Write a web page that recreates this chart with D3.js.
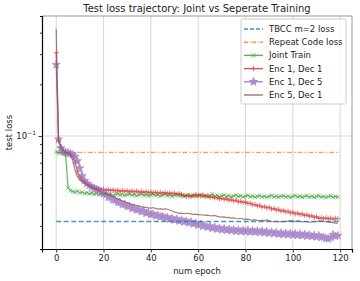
<!DOCTYPE html>
<html>
<head>
<meta charset="utf-8">
<script src="https://cdn.jsdelivr.net/npm/d3@7"></script>
<style>
  body { margin: 0; background: #fff; }
  text { font-family: "DejaVu Sans", sans-serif; }
</style>
</head>
<body>
<div id="chart"></div>
<script>
// values, one per epoch (0..119)
var jointTrain = [
  .0810, .0795, .0802, .0788, .0776, .0500, .0482, .0476, .0470, .0478, .0468, .0472, .0463, .0469, .0460, .0466, .0458, .0463, .0455, .0461,
  .0456, .0462, .0454, .0459, .0451, .0457, .0462, .0453, .0458, .0450, .0456, .0461, .0452, .0457, .0449, .0455, .0460, .0451, .0456, .0448,
  .0454, .0459, .0450, .0455, .0447, .0453, .0458, .0449, .0454, .0446, .0452, .0457, .0448, .0453, .0445, .0451, .0456, .0447, .0452, .0444,
  .0450, .0455, .0446, .0451, .0443, .0449, .0460, .0447, .0452, .0443, .0449, .0454, .0445, .0450, .0442, .0448, .0453, .0444, .0449, .0441,
  .0447, .0452, .0443, .0448, .0441, .0446, .0451, .0442, .0447, .0440, .0446, .0451, .0442, .0447, .0441, .0446, .0450, .0441, .0446, .0440,
  .0446, .0451, .0442, .0447, .0440, .0445, .0450, .0441, .0446, .0440, .0445, .0450, .0441, .0446, .0439, .0445, .0449, .0440, .0445, .0441
];
var enc1dec1 = [
  .306, .094, .086, .082, .0800, .0795, .0785, .0765, .0700, .0620, .0580, .0555, .0540, .0528, .0518, .0510, .0502, .0495, .0492, .0488,
  .0490, .0484, .0488, .0481, .0486, .0479, .0484, .0477, .0482, .0476, .0481, .0474, .0479, .0473, .0478, .0471, .0476, .0470, .0475, .0468,
  .0472, .0467, .0471, .0465, .0470, .0464, .0469, .0462, .0467, .0461, .0465, .0459, .0463, .0456, .0452, .0446, .0448, .0444, .0452, .0456,
  .0452, .0449, .0453, .0445, .0448, .0440, .0444, .0436, .0439, .0431, .0434, .0427, .0431, .0423, .0426, .0419, .0423, .0414, .0417, .0410,
  .0413, .0404, .0407, .0398, .0400, .0392, .0395, .0386, .0389, .0382, .0385, .0376, .0379, .0371, .0374, .0366, .0369, .0362, .0365, .0357,
  .0360, .0352, .0356, .0349, .0352, .0345, .0348, .0341, .0344, .0336, .0339, .0332, .0335, .0330, .0334, .0329, .0333, .0328, .0332, .0330
];
var enc1dec5 = [
  .260, .0957, .0850, .0815, .0805, .0800, .0790, .0778, .0760, .0715, .0650, .0585, .0550, .0530, .0515, .0505, .0497, .0490, .0482, .0474,
  .0462, .0455, .0441, .0438, .0425, .0423, .0411, .0410, .0399, .0400, .0389, .0390, .0379, .0381, .0371, .0373, .0363, .0366, .0355, .0358,
  .0349, .0352, .0343, .0346, .0338, .0341, .0333, .0336, .0328, .0332, .0324, .0328, .0320, .0324, .0316, .0320, .0312, .0316, .0308, .0311,
  .0303, .0306, .0298, .0301, .0294, .0298, .0290, .0294, .0287, .0291, .0284, .0289, .0283, .0287, .0281, .0285, .0279, .0284, .0278, .0283,
  .0277, .0283, .0276, .0281, .0276, .0280, .0275, .0280, .0273, .0278, .0271, .0276, .0270, .0274, .0268, .0273, .0267, .0272, .0266, .0271,
  .0265, .0270, .0264, .0269, .0263, .0268, .0262, .0266, .0260, .0264, .0258, .0263, .0257, .0258, .0254, .0252, .0256, .0267, .0261, .0263
];
var enc5dec1 = [
  .420, .094, .086, .082, .0805, .0795, .0780, .0720, .0630, .0580, .0555, .0540, .0530, .0520, .0510, .0502, .0495, .0488, .0481, .0474,
  .0466, .0461, .0455, .0449, .0443, .0437, .0431, .0425, .0419, .0414, .0409, .0404, .0400, .0397, .0394, .0391, .0388, .0386, .0384, .0382,
  .0381, .0383, .0379, .0376, .0378, .0374, .0377, .0375, .0371, .0366, .0361, .0358, .0355, .0356, .0353, .0355, .0354, .0352, .0350, .0351,
  .0349, .0347, .0348, .0345, .0346, .0344, .0343, .0345, .0341, .0339, .0337, .0338, .0335, .0336, .0333, .0334, .0331, .0330, .0332, .0328,
  .0327, .0328, .0325, .0324, .0326, .0323, .0322, .0324, .0321, .0325, .0322, .0318, .0317, .0319, .0316, .0318, .0317, .0319, .0320, .0322,
  .0320, .0318, .0321, .0319, .0316, .0317, .0318, .0315, .0316, .0318, .0317, .0319, .0321, .0318, .0316, .0315, .0314, .0313, .0311, .0310
];
var tbccLoss = 0.0318;
var repeatLoss = 0.0803;
var epochRange = [0, 120];
var xTicks = [0, 20, 40, 60, 80, 100, 120];
var yMinorTicks = [0.03, 0.04, 0.05, 0.06, 0.07, 0.08, 0.09, 0.2, 0.3, 0.4];
var legendLabels = ["TBCC m=2 loss", "Repeat Code loss", "Joint Train", "Enc 1, Dec 1", "Enc 1, Dec 5", "Enc 5, Dec 1"];

var svgWidth = 360;
var svgHeight = 281;
var margin = { top: 16, right: 8, bottom: 32, left: 42 };
var width = svgWidth - margin.left - margin.right;
var height = svgHeight - margin.top - margin.bottom;

var svg = d3.select("#chart")
  .append("svg")
  .attr("width", svgWidth)
  .attr("height", svgHeight);

var chartGroup = svg.append("g")
  .attr("transform", `translate(${margin.left}, ${margin.top})`);

var xScale = d3.scaleLinear().domain([-6, 125]).range([0, width]);
var yScale = d3.scaleLog().domain([0.022, 0.5]).range([height, 0]);

// grid
chartGroup.selectAll(".vgrid").data(xTicks).enter().append("line")
  .attr("x1", d => xScale(d)).attr("x2", d => xScale(d))
  .attr("y1", 0).attr("y2", height)
  .attr("stroke", "#d9d9d9").attr("stroke-width", 1.1);
chartGroup.append("line")
  .attr("x1", 0).attr("x2", width)
  .attr("y1", yScale(0.1)).attr("y2", yScale(0.1))
  .attr("stroke", "#d9d9d9").attr("stroke-width", 1.1);

chartGroup.append("clipPath").attr("id", "plotclip")
  .append("rect").attr("width", width).attr("height", height);
var plot = chartGroup.append("g").attr("clip-path", "url(#plotclip)");

var line = d3.line().x((d, i) => xScale(i)).y(d => yScale(d));

var crossPath = "M-2,-2L2,2M-2,2L2,-2";
var plusPath = "M-2.6,0L2.6,0M0,-2.6L0,2.6";
var starPath = d3.symbol().type(d3.symbolStar).size(20)();

var series = [
  { data: jointTrain, color: "#2ca02c", marker: crossPath, fill: "none" },
  { data: enc1dec1, color: "#d62728", marker: plusPath, fill: "none" },
  { data: enc1dec5, color: "#9467bd", marker: starPath, fill: "#9467bd" },
  { data: enc5dec1, color: "#8c564b", marker: null, fill: "none" }
];

// horizontal references
plot.append("line")
  .attr("x1", xScale(epochRange[0])).attr("x2", xScale(epochRange[1]))
  .attr("y1", yScale(repeatLoss)).attr("y2", yScale(repeatLoss))
  .attr("stroke", "#ff7f0e").attr("stroke-opacity", 0.75).attr("stroke-width", 1.4)
  .attr("stroke-dasharray", "5,2,1.5,2");

series.forEach(s => {
  var g = plot.append("g").attr("opacity", 0.75);
  g.append("path").datum(s.data)
    .attr("d", line)
    .attr("fill", "none")
    .attr("stroke", s.color)
    .attr("stroke-width", 1.2);
  if (s.marker) {
    g.selectAll("path.mk").data(s.data).enter().append("path")
      .attr("class", "mk")
      .attr("d", s.marker)
      .attr("transform", (d, i) => `translate(${xScale(i)},${yScale(d)})`)
      .attr("fill", s.fill)
      .attr("stroke", s.color)
      .attr("stroke-width", 0.8);
  }
});

plot.append("line")
  .attr("x1", xScale(epochRange[0])).attr("x2", xScale(epochRange[1]))
  .attr("y1", yScale(tbccLoss)).attr("y2", yScale(tbccLoss))
  .attr("stroke", "#1f77b4").attr("stroke-opacity", 0.8).attr("stroke-width", 1.4)
  .attr("stroke-dasharray", "5,2.5");

// spines
chartGroup.append("line").attr("x1", 0).attr("x2", width).attr("y1", 0).attr("y2", 0)
  .attr("stroke", "#999").attr("stroke-width", 1);
chartGroup.append("line").attr("x1", width).attr("x2", width).attr("y1", 0).attr("y2", height)
  .attr("stroke", "#999").attr("stroke-width", 1);

// axes
var bottomAxis = d3.axisBottom(xScale).tickValues(xTicks).tickSize(3.5).tickPadding(2);
var xAxisG = chartGroup.append("g")
  .attr("transform", `translate(0, ${height})`)
  .call(bottomAxis);
xAxisG.select(".domain").attr("stroke", "#000").attr("stroke-width", 1.2);
xAxisG.selectAll("text").attr("font-size", "8.5px").attr("fill", "#222")
  .style("font-family", "DejaVu Sans");
xAxisG.selectAll(".tick line").attr("stroke", "#333");

var leftAxis = d3.axisLeft(yScale).tickValues(yMinorTicks).tickSize(2).tickFormat("");
var yAxisG = chartGroup.append("g").call(leftAxis);
yAxisG.select(".domain").attr("stroke", "#000").attr("stroke-width", 1.2);
yAxisG.selectAll(".tick line").attr("stroke", "#333");
var majorAxis = d3.axisLeft(yScale).tickValues([0.1]).tickSize(3.5).tickFormat("");
var majorG = chartGroup.append("g").call(majorAxis);
majorG.select(".domain").remove();
majorG.selectAll(".tick line").attr("stroke", "#333");

var yLab = chartGroup.append("text")
  .attr("x", -6).attr("y", yScale(0.1) + 3)
  .attr("text-anchor", "end")
  .attr("font-size", "8.5px").attr("fill", "#222");
yLab.append("tspan").text("10");
yLab.append("tspan").attr("dy", -4).attr("font-size", "6px").text("\u22121");

// labels
svg.append("text")
  .attr("x", margin.left + width / 2).attr("y", 12)
  .attr("text-anchor", "middle")
  .attr("font-size", "10px").attr("fill", "#222")
  .text("Test loss trajectory: Joint vs Seperate Training");

svg.append("text")
  .attr("x", margin.left + width / 2).attr("y", svgHeight - 7)
  .attr("text-anchor", "middle")
  .attr("font-size", "8.5px").attr("fill", "#222")
  .text("num epoch");

svg.append("text")
  .attr("transform", `translate(12, ${margin.top + height / 2}) rotate(-90)`)
  .attr("text-anchor", "middle")
  .attr("font-size", "8.5px").attr("fill", "#222")
  .text("test loss");

// legend
var legend = svg.append("g").attr("transform", "translate(241, 19)");
legend.append("rect")
  .attr("width", 105).attr("height", 85)
  .attr("fill", "#fff").attr("fill-opacity", 0.85)
  .attr("stroke", "#ccc").attr("stroke-width", 1).attr("rx", 1.5);

var legendItems = [
  { color: "#1f77b4", dash: "4,2", marker: null, fill: "none" },
  { color: "#ff7f0e", dash: "4,1.5,1,1.5", marker: null, fill: "none" },
  { color: "#2ca02c", dash: null, marker: crossPath, fill: "none" },
  { color: "#d62728", dash: null, marker: plusPath, fill: "none" },
  { color: "#9467bd", dash: null, marker: starPath, fill: "#9467bd" },
  { color: "#8c564b", dash: null, marker: null, fill: "none" }
];

legendItems.forEach((it, i) => {
  var yy = 10 + i * 13.2;
  var row = legend.append("g").attr("opacity", 0.8);
  row.append("line")
    .attr("x1", 3).attr("x2", 22).attr("y1", yy).attr("y2", yy)
    .attr("stroke", it.color).attr("stroke-width", 1.4)
    .attr("stroke-dasharray", it.dash);
  if (it.marker) {
    row.append("path").attr("d", it.marker)
      .attr("transform", `translate(12.5,${yy})`)
      .attr("fill", it.fill).attr("stroke", it.color).attr("stroke-width", 0.9);
  }
  legend.append("text")
    .attr("x", 28).attr("y", yy + 3)
    .attr("font-size", "8.5px").attr("fill", "#222")
    .text(legendLabels[i]);
});
</script>
</body>
</html>
